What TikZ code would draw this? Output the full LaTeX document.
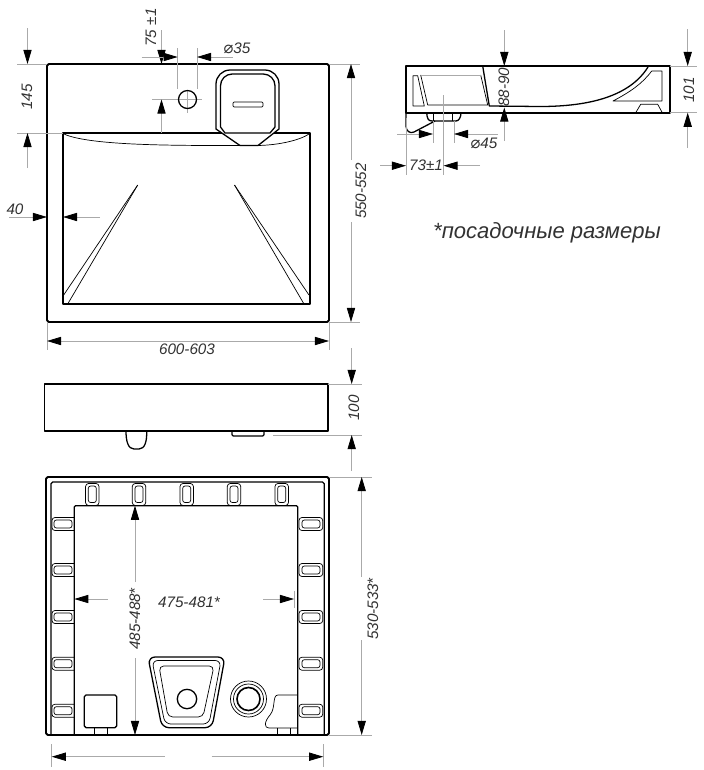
\documentclass[tikz,border=0pt]{standalone}
\usepackage{fontspec}
\setmainfont{Liberation Sans}
\newfontfamily\symfont{DejaVu Sans}
\usepackage{xcolor}
\usetikzlibrary{arrows.meta}
\definecolor{dimgray}{RGB}{170,170,170}
\definecolor{dimtext}{RGB}{50,50,50}
\newcommand{\diam}{{\symfont\upshape\fontsize{14}{14}\selectfont ⌀}}

\begin{document}
\begin{tikzpicture}[
    x=0.03cm, y=-0.03cm,
    outline/.style={draw, line width=1.6pt, line join=round},
    part/.style={draw, line width=1.1pt, line join=round},
    fine/.style={draw, line width=0.6pt, line join=round},
    extline/.style={draw=dimgray, line width=0.7pt},
    dimline/.style={draw=dimgray, line width=0.7pt, -{Triangle[length=12pt, width=7pt, black]}},
    dimlabel/.style={font=\itshape\fontsize{13}{14}\selectfont, text=dimtext, inner sep=0pt},
    vlabel/.style={dimlabel, rotate=90}
]
\useasboundingbox (0,0) rectangle (704,770);

% Top view
\draw[outline, rounded corners=1.5pt] (47,64) rectangle (329,322);
\draw[part] (63,133) -- (310,133) -- (310,304) -- (63,304) -- cycle;
\draw[fine] (64,134) .. controls (90,146) and (180,145.5) .. (240,145.5) -- (258,145.5) .. controls (280,145) and (300,140) .. (309,134);

% Slivers in the basin
\draw[fine] (137.7,185) -- (63,296);
\draw[fine] (137.7,185) -- (67.7,304);
\draw[fine] (234.5,185) -- (309,295);
\draw[fine] (234.5,185) -- (304,304);

% Overflow
\draw[part, fill=white] (216,129) [rounded corners=12pt] -- (216,70) -- (279,70) [sharp corners] -- (279,129) -- (258,145.5) -- (240,145.5) -- cycle;
\draw[part] (220.5,127) [rounded corners=10pt] -- (220.5,74) -- (275,74) [sharp corners] -- (275,127) -- (270,133) -- (225,133) -- cycle;
\draw[fine, fill=white, rounded corners=1pt] (233,102) rectangle (263,107);

% Tap hole
\draw[extline] (152,99.5) -- (202,99.5);
\draw[extline] (187.5,90) -- (187.5,113);
\draw[part] (187.5,99.5) circle[radius=9];

% Top view dimensions
\draw[extline] (17,64) -- (47,64);
\draw[extline] (17,133) -- (63,133);
\draw[dimline] (27.5,28) -- (27.5,64);
\draw[dimline] (27.5,168) -- (27.5,133);
\node[vlabel] (lbl145) at (27,97) {145};
\draw[dimline] (161.5,30) -- (161.5,64);
\draw[dimline] (161.5,133) -- (161.5,99.5);
\node[vlabel] (lbl75) at (151,27.5) {75 ±1};
\draw[extline] (177.7,48) -- (177.7,89);
\draw[extline] (197,48) -- (197,89);
\draw[dimline] (141.5,57) -- (177.7,57);
\draw[dimline] (233,57) -- (197,57);
\node[dimlabel] (lbl35) at (237,48) {\diam35};
\draw[dimline] (9,217) -- (47,217);
\draw[dimline] (100,217) -- (63,217);
\node[dimlabel] (lbl40) at (15,209) {40};
\draw[extline] (329,64) -- (360,64);
\draw[extline] (329,322) -- (360,322);
\draw[dimline] (351,160) -- (351,64);
\draw[dimline] (351,222) -- (351,322);
\node[vlabel] (lbl550) at (361,191) {550-552};
\draw[extline] (47,322) -- (47,350);
\draw[extline] (329,322) -- (329,350);
\draw[{Triangle[length=12pt, width=7pt, black]}-{Triangle[length=12pt, width=7pt, black]}, extline] (47,341) -- (329,341);
\node[dimlabel] (lbl600) at (187,349) {600-603};

% Section view
\draw[outline] (406,66) rectangle (670,112.7);
\draw[part] (482.7,66) -- (489.3,106) -- (540,106.5) .. controls (590,106.5) and (630,96) .. (648,67);
\draw[fine] (651.7,71) -- (662,71) -- (662,101) -- (613,101) .. controls (630,92) and (642,84) .. (651.7,71);
\draw[fine] (635.7,112.7) -- (640.7,104.3) -- (657.7,104.3) -- (662.3,112.7);
\draw[fine] (413,75.7) -- (417.7,75.7) -- (424.3,106) -- (413,106) -- cycle;
\draw[fine] (427.7,105) -- (487.7,105) -- (480.7,75);
\draw[fine] (420.7,75) -- (427.7,105);
\draw[extline] (420.7,75) -- (480.7,75);
\draw[part] (406,112.7) -- (406,126) .. controls (406,131) and (410,134) .. (414,132) -- (435,121);
\draw[part] (426.7,112.7) .. controls (427,118) and (428,121) .. (432,121) -- (456,121) .. controls (459,121) and (461,117) .. (461,112.7);
\draw[fine] (433,112.7) -- (433,121);
\draw[fine] (452.7,112.7) -- (452.7,121);

% Section view dimensions
\draw[dimline] (504.3,30) -- (504.3,66);
\draw[dimline] (504.3,141) -- (504.3,107.5);
\node[vlabel] (lbl88) at (504,87) {88-90};
\draw[extline] (670,66) -- (697,66);
\draw[extline] (670,112.7) -- (697,112.7);
\draw[dimline] (687.7,29) -- (687.7,66);
\draw[dimline] (687.7,148) -- (687.7,112.7);
\node[vlabel] (lbl101) at (689,90) {101};
\draw[extline] (433,121) -- (433,143);
\draw[extline] (454,121) -- (454,143);
\draw[dimline] (397,134) -- (433,134);
\draw[dimline] (498,134) -- (454,134);
\node[dimlabel] (lbl45) at (484,143.5) {\diam45};
\draw[extline] (406,118) -- (406,175);
\draw[extline] (443.5,95) -- (443.5,175);
\draw[dimline] (380,165.7) -- (406,165.7);
\draw[dimline] (480,165.7) -- (443.5,165.7);
\node[dimlabel] (lbl73) at (426,165.7) {73±1};

% Note
\node[font=\itshape\fontsize{18.8}{20}\selectfont, text=dimtext, inner sep=0pt] (note) at (547,233) {*посадочные размеры};

% Front view
\draw[outline] (44.5,384) rectangle (327.7,430.7);
\draw[part] (126,431) .. controls (126,441) and (128,449) .. (134,449) -- (139,449) .. controls (145,449) and (147,441) .. (146.7,431);
\draw[part, rounded corners=1pt] (232,431) -- (232,436) -- (264,436) -- (264,431);

% Front view dimensions
\draw[extline] (328,384) -- (362,384);
\draw[extline] (273,435) -- (362,435);
\draw[dimline] (351.7,348) -- (351.7,384);
\draw[dimline] (351.7,470.7) -- (351.7,435);
\node[vlabel] (lbl100) at (354,408) {100};

% Bottom view
\draw[outline, rounded corners=1.5pt] (46,735) -- (46,477) -- (329,477) -- (329,735) -- cycle;
\draw[part, rounded corners=1.5pt] (51,735) -- (51,482) -- (324.3,482) -- (324.3,735);
\draw[part, rounded corners=1pt] (74.3,735) -- (74.3,505.7) -- (297.7,505.7) -- (297.7,735);

% Fixing pads
\foreach \px in {92.3,139,186.7,234,281.7} {
    \draw[fine, rounded corners=2.5pt] (\px-6.7,483.5) rectangle (\px+6.7,505.5);
    \draw[fine, rounded corners=2pt] (\px-4,486) rectangle (\px+4,502.5);
}
\foreach \py in {524,570,617,663.7,710.7} {
    \draw[fine, rounded corners=2.5pt] (74.3,\py-6.5) -- (52,\py-6.5) -- (52,\py+6.5) -- (74.3,\py+6.5);
    \draw[fine, rounded corners=2pt] (54,\py-4) rectangle (72,\py+4);
    \draw[fine, rounded corners=2.5pt] (299,\py-6.5) rectangle (322.7,\py+6.5);
    \draw[fine, rounded corners=2pt] (302,\py-4) rectangle (320,\py+4);
}

% Drain recess
\draw[part, rounded corners=6pt] (148,657) -- (225,657) -- (212,727.7) -- (162,727.7) -- cycle;
\draw[fine, rounded corners=5pt] (152,660.5) -- (221,660.5) -- (209,724) -- (165,724) -- cycle;
\draw[fine, rounded corners=4pt] (159,666) -- (214,666) -- (203,717) -- (168,717) -- cycle;
\draw[part] (187,699) circle[radius=9.7];

% Ring
\draw[fine] (248.5,699) circle[radius=18];
\draw[fine] (248.5,699) circle[radius=15];
\draw[line width=1.4pt] (248.5,699) circle[radius=11.5];

% Bracket blocks
\draw[part, rounded corners=1.5pt] (84.3,695) rectangle (116.7,727.7);
\draw[fine] (94,727.7) -- (94,735);
\draw[fine] (107.7,727.7) -- (107.7,735);
\draw[fine] (297.7,695) -- (278,695) .. controls (272,695) and (276,708) .. (270,715) .. controls (264,722) and (264,728) .. (269,728) -- (297.7,728);
\draw[fine] (277.7,728) -- (277.7,735);
\draw[fine] (290.7,728) -- (290.7,735);

% Bottom view dimensions
\draw[dimline] (135,582) -- (135,505.7);
\draw[dimline] (135,658) -- (135,735);
\node[vlabel] (lbl485) at (135,619) {485-488*};
\draw[dimline] (108,599) -- (74.3,599);
\draw[dimline] (263,599) -- (294,599);
\draw[extline] (294,590.7) -- (294,608);
\node[dimlabel] (lbl475) at (189,602) {475-481*};
\draw[extline] (329,477) -- (372,477);
\draw[extline] (329,735) -- (372,735);
\draw[dimline] (361.7,577) -- (361.7,477);
\draw[dimline] (361.7,640) -- (361.7,735);
\node[vlabel] (lbl530) at (373,609) {530-533*};
\draw[extline] (51.7,744) -- (51.7,766.7);
\draw[extline] (323.3,744) -- (323.3,766.7);
\draw[dimline] (165,756.7) -- (51.7,756.7);
\draw[dimline] (211.7,756.7) -- (323.3,756.7);

\end{tikzpicture}
\end{document}
